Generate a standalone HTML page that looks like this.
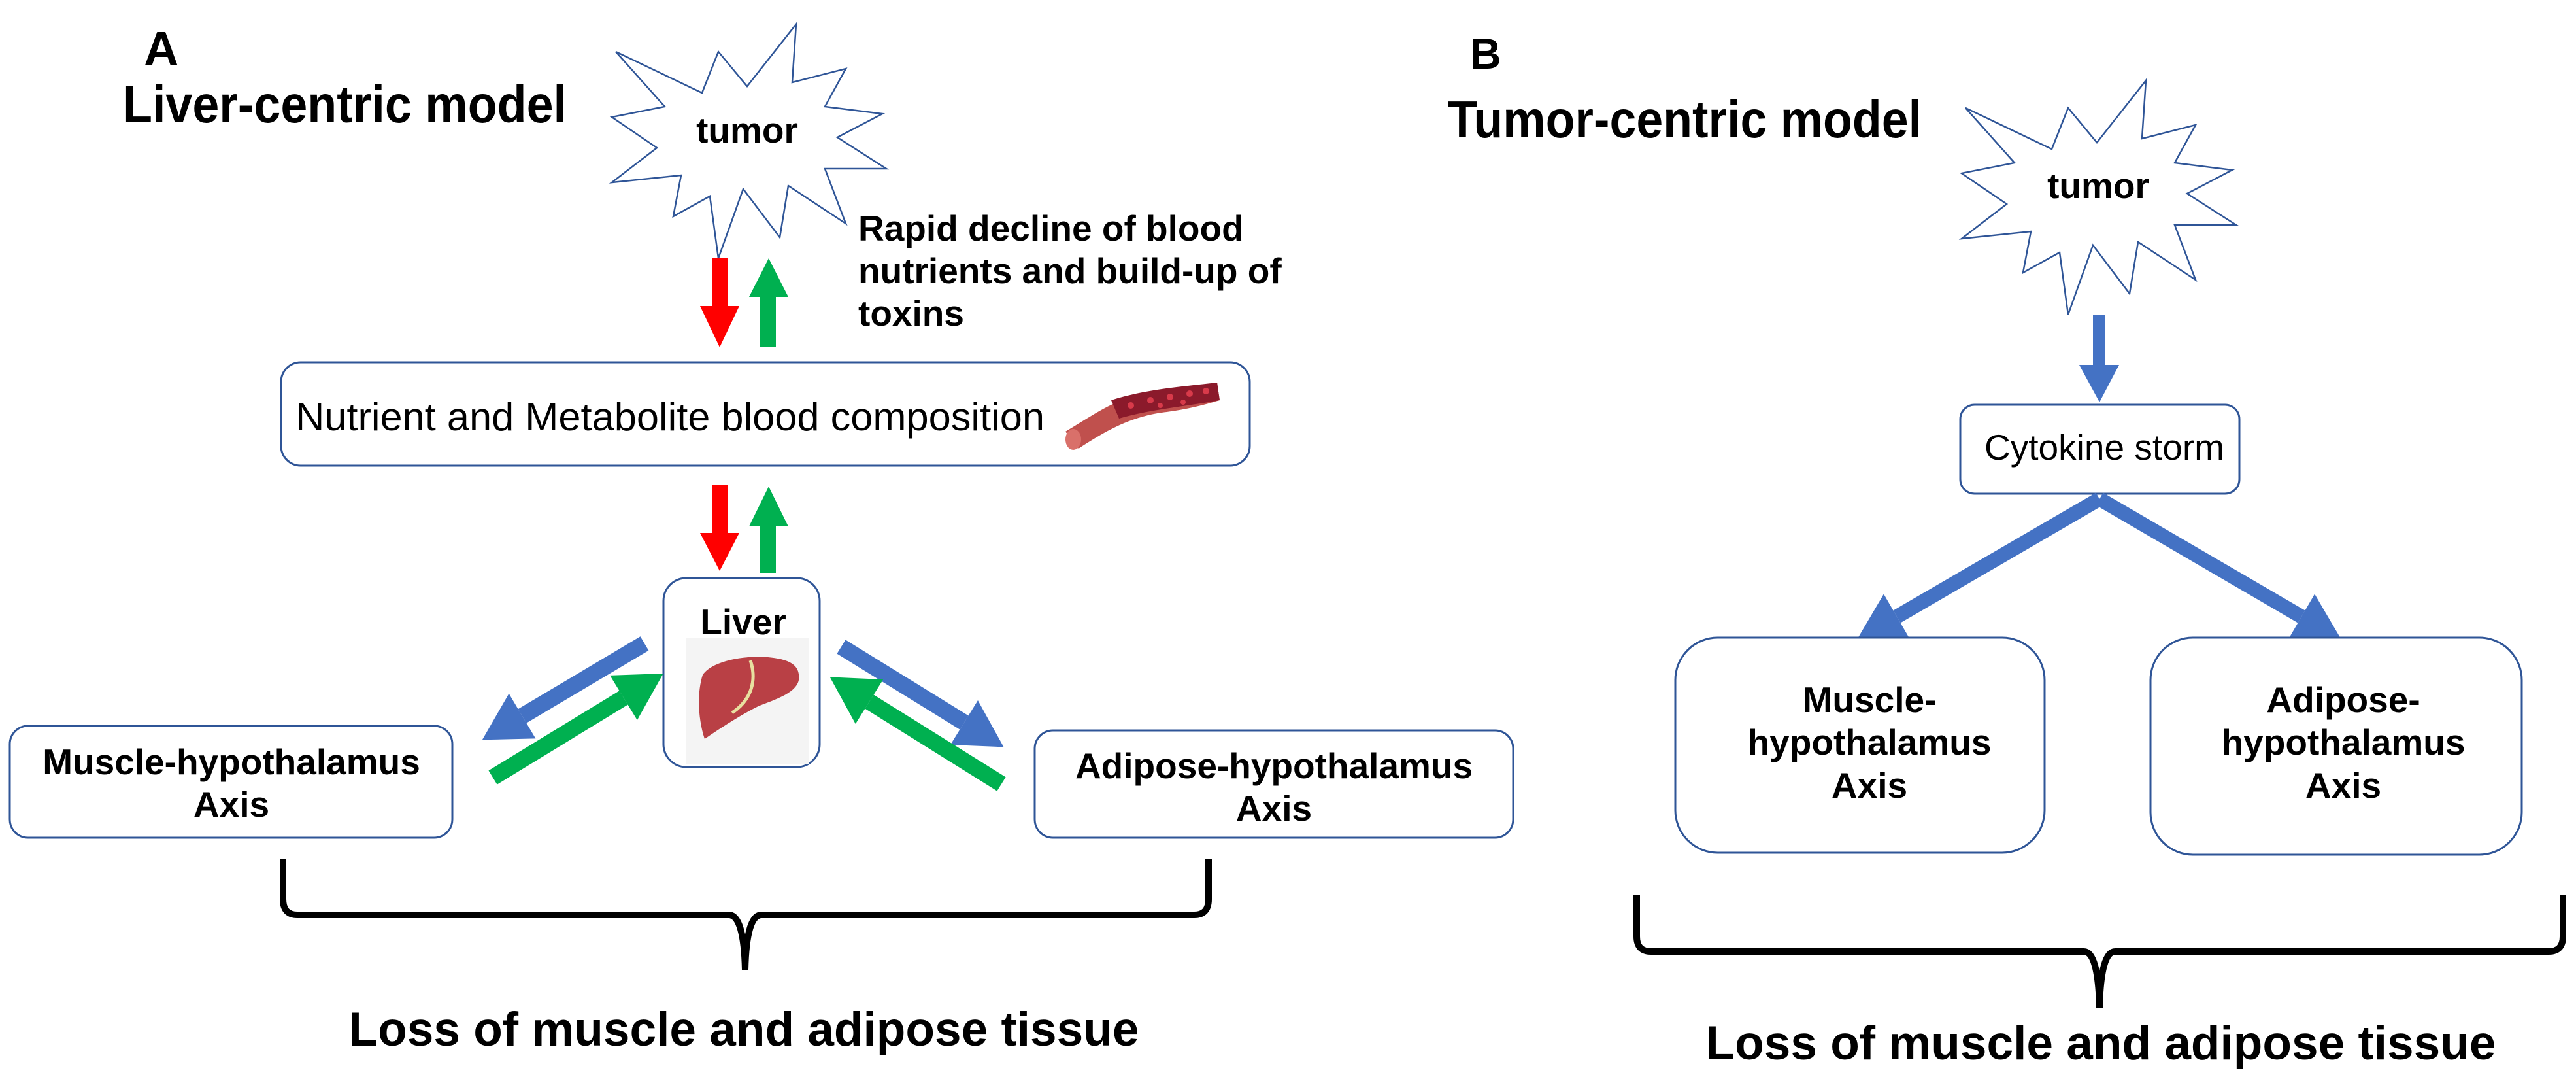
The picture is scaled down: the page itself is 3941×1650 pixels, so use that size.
<!DOCTYPE html>
<html><head><meta charset="utf-8"><style>html,body{margin:0;padding:0;background:#fff}svg{display:block}</style></head><body>
<svg width="3941" height="1650" viewBox="0 0 3941 1650" xmlns="http://www.w3.org/2000/svg" font-family="Liberation Sans, Arial, sans-serif">
<defs>
<marker id="hb" markerUnits="userSpaceOnUse" markerWidth="80" markerHeight="80" refX="0" refY="36" orient="auto" viewBox="0 0 66 72"><path d="M0,0 L64,36 L0,72 z" fill="#4472c4"/></marker>
<marker id="hg" markerUnits="userSpaceOnUse" markerWidth="80" markerHeight="80" refX="0" refY="36" orient="auto" viewBox="0 0 66 72"><path d="M0,0 L64,36 L0,72 z" fill="#00b050"/></marker>
</defs>
<g id="star" fill="#fff" stroke="#2f5597" stroke-width="2.5">
<polygon points="1218,37 1212,126 1294,105 1262,163 1350,174 1281,210 1356,258 1262,258 1294,342 1206,284 1193,363 1137,289 1099,395 1086,300 1030,331 1042,268 936,279 1005,226 936,179 1017,163 942,79 1074,142 1099,79 1143,132"/>
</g>
<g transform="translate(2065,86)" fill="#fff" stroke="#2f5597" stroke-width="2.5">
<polygon points="1218,37 1212,126 1294,105 1262,163 1350,174 1281,210 1356,258 1262,258 1294,342 1206,284 1193,363 1137,289 1099,395 1086,300 1030,331 1042,268 936,279 1005,226 936,179 1017,163 942,79 1074,142 1099,79 1143,132"/>
</g>
<g font-weight="bold" fill="#000">
<text x="220" y="100" font-size="74">A</text>
<text x="188" y="187" font-size="80" textLength="679" lengthAdjust="spacingAndGlyphs">Liver-centric model</text>
<text x="1143" y="218" font-size="55" text-anchor="middle">tumor</text>
<text x="1313" y="368" font-size="55">Rapid decline of blood</text>
<text x="1313" y="433" font-size="55">nutrients and build-up of</text>
<text x="1313" y="498" font-size="55">toxins</text>
<text x="2249" y="105" font-size="66">B</text>
<text x="2215" y="210" font-size="80" textLength="725" lengthAdjust="spacingAndGlyphs">Tumor-centric model</text>
<text x="3210" y="303" font-size="55" text-anchor="middle">tumor</text>
</g>
<!-- vertical arrows A -->
<polygon points="1089,395 1113,395 1113,468 1131,468 1101,531 1071,468 1089,468" fill="#ff0000"/>
<polygon points="1163,531 1187,531 1187,454 1206,454 1176,395 1146,454 1163,454" fill="#00b050"/>
<polygon points="1089,742 1113,742 1113,815 1131,815 1101,873 1071,815 1089,815" fill="#ff0000"/>
<polygon points="1163,876 1187,876 1187,805 1206,805 1176,744 1146,805 1163,805" fill="#00b050"/>
<!-- Nutrient box -->
<rect x="430" y="554" width="1482" height="158" rx="30" fill="#fff" stroke="#2f5597" stroke-width="3"/>
<text x="452" y="658" font-size="60" textLength="1146" lengthAdjust="spacingAndGlyphs">Nutrient and Metabolite blood composition</text>
<g>
<path d="M1630,660 C1680,630 1720,600 1780,598 C1820,596 1840,590 1862,585 L1866,612 C1840,620 1815,626 1785,630 C1730,636 1690,660 1650,686 Z" fill="#c0504d"/>
<path d="M1700,612 C1750,596 1800,592 1862,585 L1866,612 C1810,622 1760,626 1712,640 Z" fill="#8b1a2b"/>
<ellipse cx="1642" cy="672" rx="12" ry="16" fill="#d9706a"/>
<g fill="#d83a4a"><circle cx="1730" cy="620" r="5"/><circle cx="1760" cy="612" r="5"/><circle cx="1790" cy="607" r="5"/><circle cx="1820" cy="602" r="5"/><circle cx="1845" cy="598" r="5"/><circle cx="1775" cy="620" r="4"/><circle cx="1810" cy="615" r="4"/></g>
</g>
<!-- Liver box -->
<rect x="1015" y="884" width="239" height="289" rx="35" fill="#fff" stroke="#2f5597" stroke-width="3"/>
<text x="1137" y="970" font-size="55" font-weight="bold" text-anchor="middle">Liver</text>
<rect x="1049" y="976" width="189" height="192" fill="#f4f4f4"/>
<path d="M1075,1032 C1090,1010 1140,1002 1175,1005 C1205,1008 1225,1015 1222,1040 C1218,1060 1185,1070 1160,1080 C1130,1095 1100,1115 1078,1130 C1068,1100 1066,1060 1075,1032 Z" fill="#b94045"/>
<path d="M1148,1010 C1158,1040 1150,1070 1120,1090" stroke="#e8e0a0" stroke-width="5" fill="none"/>
<!-- side boxes A -->
<rect x="15" y="1110" width="677" height="171" rx="28" fill="#fff" stroke="#2f5597" stroke-width="3"/>
<text x="354" y="1184" font-size="55" font-weight="bold" text-anchor="middle">Muscle-hypothalamus</text>
<text x="354" y="1249" font-size="55" font-weight="bold" text-anchor="middle">Axis</text>
<rect x="1583" y="1117" width="732" height="164" rx="28" fill="#fff" stroke="#2f5597" stroke-width="3"/>
<text x="1949" y="1190" font-size="55" font-weight="bold" text-anchor="middle">Adipose-hypothalamus</text>
<text x="1949" y="1255" font-size="55" font-weight="bold" text-anchor="middle">Axis</text>
<!-- diagonal arrows A -->
<g stroke-width="25" fill="none">
<line x1="986" y1="984" x2="799" y2="1095" stroke="#4472c4" marker-end="url(#hb)"/>
<line x1="754" y1="1189" x2="954" y2="1067" stroke="#00b050" marker-end="url(#hg)"/>
<line x1="1287" y1="989" x2="1475" y2="1105" stroke="#4472c4" marker-end="url(#hb)"/>
<line x1="1532" y1="1199" x2="1330" y2="1073" stroke="#00b050" marker-end="url(#hg)"/>
</g>
<!-- brace A -->
<path d="M433,1313 L433,1375 Q433,1399 455,1399 L1115,1399 Q1138,1399 1140,1483 Q1142,1399 1165,1399 L1827,1399 Q1849,1399 1849,1375 L1849,1313" fill="none" stroke="#000" stroke-width="10"/>
<text x="1138" y="1599" font-size="73" font-weight="bold" text-anchor="middle">Loss of muscle and adipose tissue</text>
<!-- B -->
<polygon points="3202,482 3221,482 3221,558 3242,558 3212,615 3181,558 3202,558" fill="#4472c4"/>
<rect x="2999" y="619" width="427" height="136" rx="22" fill="#fff" stroke="#2f5597" stroke-width="3"/>
<text x="3036" y="703" font-size="55" textLength="367" lengthAdjust="spacingAndGlyphs">Cytokine storm</text>
<g stroke-width="22" fill="none" stroke="#4472c4">
<line x1="3212" y1="763" x2="2902" y2="943" marker-end="url(#hb)"/>
<line x1="3212" y1="763" x2="3521" y2="943" marker-end="url(#hb)"/>
</g>
<rect x="2563" y="975" width="565" height="329" rx="65" fill="#fff" stroke="#2f5597" stroke-width="3"/>
<g font-size="55" font-weight="bold" text-anchor="middle">
<text x="2860" y="1089">Muscle-</text>
<text x="2860" y="1154">hypothalamus</text>
<text x="2860" y="1220">Axis</text>
</g>
<rect x="3290" y="975" width="568" height="332" rx="65" fill="#fff" stroke="#2f5597" stroke-width="3"/>
<g font-size="55" font-weight="bold" text-anchor="middle">
<text x="3585" y="1089">Adipose-</text>
<text x="3585" y="1154">hypothalamus</text>
<text x="3585" y="1220">Axis</text>
</g>
<path d="M2504,1368 L2504,1432 Q2504,1455 2526,1455 L3188,1455 Q3210,1455 3212,1541 Q3214,1455 3236,1455 L3899,1455 Q3921,1455 3921,1432 L3921,1368" fill="none" stroke="#000" stroke-width="10"/>
<text x="3214" y="1620" font-size="73" font-weight="bold" text-anchor="middle">Loss of muscle and adipose tissue</text>
</svg>
</body></html>
